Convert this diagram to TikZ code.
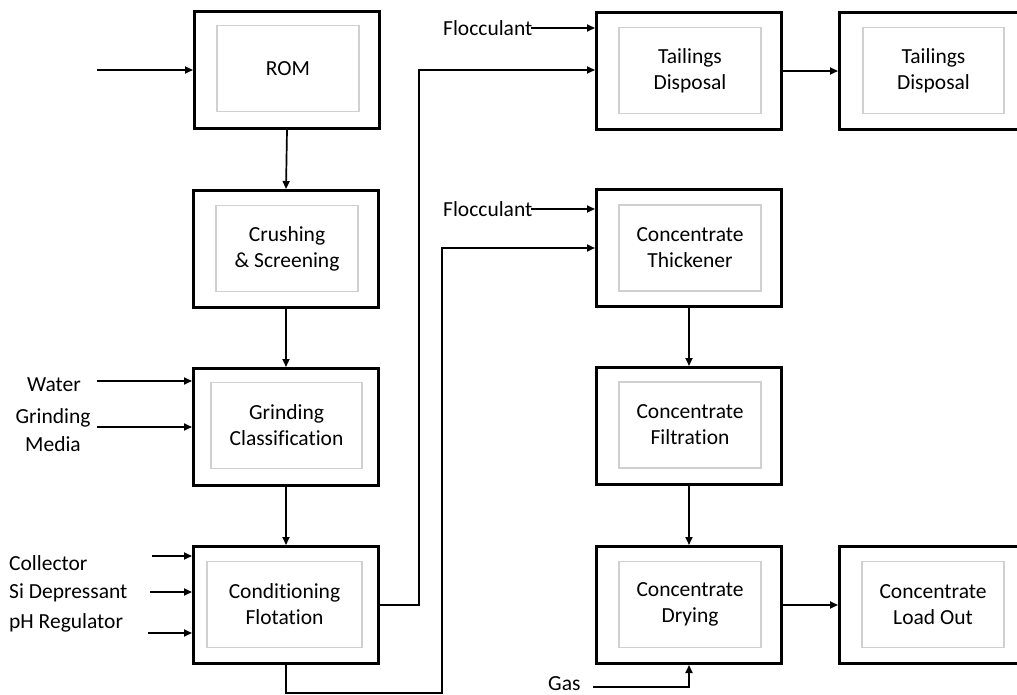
\documentclass[tikz,border=0pt]{standalone}
\usepackage{fontspec}
\setmainfont{Carlito}[Ligatures=NoCommon]
\usetikzlibrary{arrows.meta}
\definecolor{innergray}{HTML}{D0D0D0}
\begin{document}
\begin{tikzpicture}[x=1pt,y=-1pt,
 outerbox/.style={draw=black,line width=3.4pt,minimum width=184.6pt,minimum height=116.6pt,inner sep=0pt},
 innerbox/.style={draw=innergray,line width=1.3pt,minimum width=142pt,minimum height=86pt,align=center,font=\fontsize{21.5}{26}\selectfont,inner sep=0pt},
 lab/.style={font=\fontsize{21.5}{26}\selectfont,inner sep=0pt},
 arr/.style={line width=1.7pt,-{Triangle[length=8pt,width=7pt]}}]
\useasboundingbox (0,0) rectangle (1017,695);
\clip (0,0) rectangle (1017,695);
% boxes
\node[outerbox] (rom) at (287,70) {};
\node[innerbox] (romi) at (288,68.5) {ROM};
\node[outerbox] (crush) at (286,249) {};
\node[innerbox] (crushi) at (287,248.5) {Crushing\\\& Screening};
\node[outerbox] (grind) at (286,427) {};
\node[innerbox,minimum width=151pt] (grindi) at (286.5,425.5) {Grinding\\Classification};
\node[outerbox] (cond) at (286,605) {};
\node[innerbox,minimum width=155pt] (condi) at (284.5,604.5) {Conditioning\\Flotation};
\node[outerbox] (tail) at (689,71) {};
\node[innerbox] (taili) at (690,70.5) {Tailings\\Disposal};
\node[outerbox] (tailb) at (932,71) {};
\node[innerbox,minimum width=141pt] (tailbi) at (933.5,70.5) {Tailings\\Disposal};
\node[outerbox] (thick) at (689,248) {};
\node[innerbox] (thicki) at (690,248) {Concentrate\\Thickener};
\node[outerbox] (filt) at (689,426) {};
\node[innerbox] (filti) at (690,425) {Concentrate\\Filtration};
\node[outerbox] (dry) at (689,605) {};
\node[innerbox] (dryi) at (690,604.5) {Concentrate\\Drying};
\node[outerbox] (load) at (932,605) {};
\node[innerbox] (loadi) at (933,604.5) {Concentrate\\Load Out};
% labels
\node[lab] (water) at (54,385) {Water};
\node[lab,align=center,font=\fontsize{21.5}{28}\selectfont] (gm) at (53,430) {Grinding\\Media};
\node[lab,anchor=west] (coll) at (9,563) {Collector};
\node[lab,anchor=west] (si) at (9,593) {Si Depressant};
\node[lab,anchor=west] (ph) at (9,623) {pH Regulator};
\node[lab,anchor=west] (floc1) at (443,28) {Flocculant};
\node[lab,anchor=west] (floc2) at (443,209) {Flocculant};
\node[lab,anchor=west] (gas) at (548,684) {Gas};
% free ends
\coordinate (inrom) at (97,70);
\coordinate (wst) at (97,381);
\coordinate (gmst) at (97,427);
\coordinate (cst) at (152,556);
\coordinate (sst) at (150,592);
\coordinate (pst) at (148,633);
\coordinate (gst) at (593,687);
\coordinate (tj) at (419,70);
\coordinate (bj) at (442,693);
% connectors
\draw[arr] (inrom) -- (inrom -| rom.west);
\draw[arr] (rom.south) -- (crush.north);
\draw[arr] (crush.south) -- (grind.north);
\draw[arr] (grind.south) -- (cond.north);
\draw[arr] (wst) -- (wst -| grind.west);
\draw[arr] (gmst) -- (gmst -| grind.west);
\draw[arr] (cst) -- (cst -| cond.west);
\draw[arr] (sst) -- (sst -| cond.west);
\draw[arr] (pst) -- (pst -| cond.west);
\draw[arr] (cond.east) -| (tj) -- (tj -| tail.west);
\draw[arr] (cond.south) |- (bj) |- (thick.west);
\draw[arr] ([xshift=-2pt]floc1.east) -- (floc1.east -| tail.west);
\draw[arr] ([xshift=-2pt]floc2.east) -- (floc2.east -| thick.west);
\draw[arr] (tail.east) -- (tailb.west);
\draw[arr] (thick.south) -- (filt.north);
\draw[arr] (filt.south) -- (dry.north);
\draw[arr] (dry.east) -- (load.west);
\draw[arr] (gst) -| (dry.south);
\end{tikzpicture}
\end{document}
